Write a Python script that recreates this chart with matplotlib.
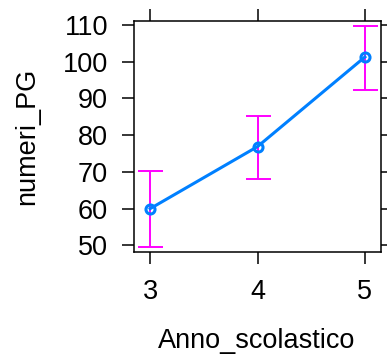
import matplotlib
matplotlib.use("Agg")
import matplotlib.pyplot as plt

# effect estimates by school year
anno = [3, 4, 5]
numeri_pg = [60.0, 76.9, 101.3]
lower = [49.6, 68.0, 92.4]
upper = [70.3, 85.2, 109.7]

plt.rcParams['font.family'] = ['Liberation Sans', 'DejaVu Sans']

fig = plt.figure(figsize=(3.87, 3.58), dpi=100)
ax = fig.add_axes([0.3463, 0.2961, 0.6382, 0.6452])

err_lo = [m - l for m, l in zip(numeri_pg, lower)]
err_hi = [u - m for m, u in zip(numeri_pg, upper)]
ax.errorbar(anno, numeri_pg, yerr=[err_lo, err_hi], fmt='none',
            ecolor='#ff00ff', elinewidth=1.4, capsize=9, capthick=1.4, zorder=2)
ax.plot(anno, numeri_pg, color='#0080ff', lw=2.2, marker='o', ms=6.5,
        mfc='none', mec='#0080ff', mew=2.2, zorder=3)

ax.set_xlim(2.85, 5.15)
ax.set_ylim(48.2, 111.1)
ax.set_xticks(anno)
ax.set_yticks([50, 60, 70, 80, 90, 100, 110])

for s in ax.spines.values():
    s.set_linewidth(1.1)
ax.tick_params(direction='out', length=8.6, width=1.1, labelsize=19.5,
               top=True, right=True, labeltop=False, labelright=False)
ax.tick_params(axis='y', pad=10)
ax.tick_params(axis='x', pad=11)

ax.set_xlabel('Anno_scolastico', fontsize=19.5)
ax.set_ylabel('numeri_PG', fontsize=19.5)
ax.xaxis.set_label_coords(0.495, -0.33)
ax.yaxis.set_label_coords(-0.38, 0.5)

fig.savefig('out.png', dpi=100)
